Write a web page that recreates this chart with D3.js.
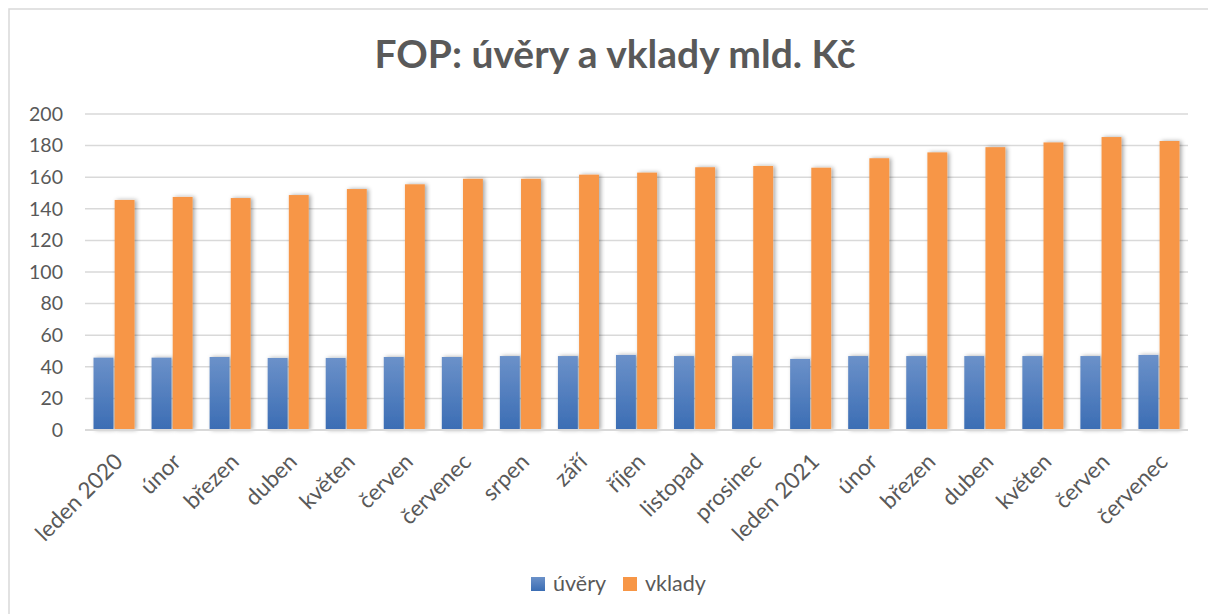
<!DOCTYPE html>
<html>
<head>
<meta charset="utf-8">
<script src="https://cdn.jsdelivr.net/npm/d3@7.9.0/dist/d3.min.js"></script>
<style>
  body { margin: 0; background: #fff; }
  svg { display: block; font-family: Lato, "Open Sans", sans-serif; }
</style>
</head>
<body>
<svg id="chart" width="1208" height="614"></svg>
<script>
const months = ['leden 2020', 'únor', 'březen', 'duben', 'květen', 'červen', 'červenec', 'srpen', 'září',
    'říjen', 'listopad', 'prosinec', 'leden 2021', 'únor', 'březen', 'duben', 'květen', 'červen', 'červenec'];
const uvery = [45.8, 45.8, 46.2, 45.6, 45.6, 46.2, 46.2, 46.8, 46.8, 47.5, 46.8, 46.8, 45.0, 46.8, 46.8, 46.8, 46.8, 46.8, 47.5];
const vklady = [145.6, 147.5, 146.8, 148.7, 152.5, 155.5, 159.0, 159.0, 161.6, 162.9, 166.3, 167.1, 166.0, 172.0, 175.7, 179.0, 182.0, 185.4, 182.9];
const seriesNames = ['úvěry', 'vklady'];
const yTicks = [0, 20, 40, 60, 80, 100, 120, 140, 160, 180, 200];

const svg = d3.select('#chart');
const textColor = '#595959';

// chart frame
svg.append('rect')
    .attr('x', 9).attr('y', 9).attr('width', 1220).attr('height', 620)
    .attr('fill', '#fff').attr('stroke', '#d9d9d9').attr('stroke-width', 1.5);

const defs = svg.append('defs');
const grad = defs.append('linearGradient').attr('id', 'blueGrad')
    .attr('x1', 0).attr('y1', 0).attr('x2', 0).attr('y2', 1);
grad.append('stop').attr('offset', '0%').attr('stop-color', '#6b91c9');
grad.append('stop').attr('offset', '100%').attr('stop-color', '#3b6db4');

const shadow = defs.append('filter').attr('id', 'shadow')
    .attr('x', '-30%').attr('y', '-10%').attr('width', '160%').attr('height', '120%');
shadow.append('feDropShadow')
    .attr('dx', 2).attr('dy', 0).attr('stdDeviation', 2)
    .attr('flood-color', '#000').attr('flood-opacity', 0.35);

// title
svg.append('text')
    .attr('x', 615).attr('y', 68)
    .attr('text-anchor', 'middle')
    .attr('font-size', 39).attr('font-weight', 'bold')
    .attr('fill', textColor)
    .text('FOP: úvěry a vklady mld. Kč');

// scales
const x0 = d3.scaleBand()
    .domain(d3.range(months.length))
    .range([85, 1188]);

const x1 = d3.scaleBand()
    .domain(seriesNames)
    .range([8.5, x0.bandwidth() - 8.5])
    .paddingInner(0.06);

const y = d3.scaleLinear().domain([0, 200]).range([430, 114]);

// gridlines
svg.append('g')
    .selectAll('line')
    .data(yTicks.slice(1))
    .join('line')
    .attr('x1', 85).attr('x2', 1188)
    .attr('y1', d => y(d)).attr('y2', d => y(d))
    .attr('stroke', '#d9d9d9').attr('stroke-width', 1.5);

// y axis labels
const yAxis = svg.append('g')
    .attr('transform', 'translate(63,0)')
    .call(d3.axisLeft(y).tickValues(yTicks).tickSize(0).tickPadding(0));
yAxis.select('.domain').remove();
yAxis.selectAll('text')
    .attr('font-size', 19.5)
    .attr('font-family', 'Lato, sans-serif')
    .attr('fill', textColor);

// bars
const data = months.map((m, i) => ({ i, values: [uvery[i], vklady[i]] }));
const colors = { 'úvěry': 'url(#blueGrad)', 'vklady': '#f79646' };

const groups = svg.append('g')
    .selectAll('g')
    .data(data)
    .join('g')
    .attr('transform', d => `translate(${x0(d.i)},0)`);

groups.selectAll('rect')
    .data(d => d.values.map((v, k) => ({ key: seriesNames[k], value: v })))
    .join('rect')
    .attr('x', d => x1(d.key))
    .attr('width', x1.bandwidth())
    .attr('y', d => y(d.value))
    .attr('height', d => y(0) - y(d.value))
    .attr('fill', d => colors[d.key])
    .attr('filter', 'url(#shadow)');

// x axis line
svg.append('line')
    .attr('x1', 85).attr('x2', 1188)
    .attr('y1', y(0)).attr('y2', y(0))
    .attr('stroke', '#d9d9d9').attr('stroke-width', 2);

// x labels
svg.append('g')
    .selectAll('text')
    .data(months)
    .join('text')
    .attr('transform', (d, i) => `translate(${x0(i) + x0.bandwidth() / 2 - 1},${452}) rotate(-45)`)
    .attr('text-anchor', 'end')
    .attr('dy', '0.7em')
    .attr('font-size', 22.5)
    .attr('fill', textColor)
    .text(d => d);

// legend
const legend = svg.append('g');
const legendItems = [
    { name: 'úvěry', x: 531 },
    { name: 'vklady', x: 623 }
];
legendItems.forEach(d => {
    legend.append('rect')
        .attr('x', d.x).attr('y', 577).attr('width', 14).attr('height', 14)
        .attr('fill', colors[d.name]);
    legend.append('text')
        .attr('x', d.x + 22).attr('y', 591)
        .attr('font-size', 21.5)
        .attr('fill', textColor)
        .text(d.name);
});
</script>
</body>
</html>
